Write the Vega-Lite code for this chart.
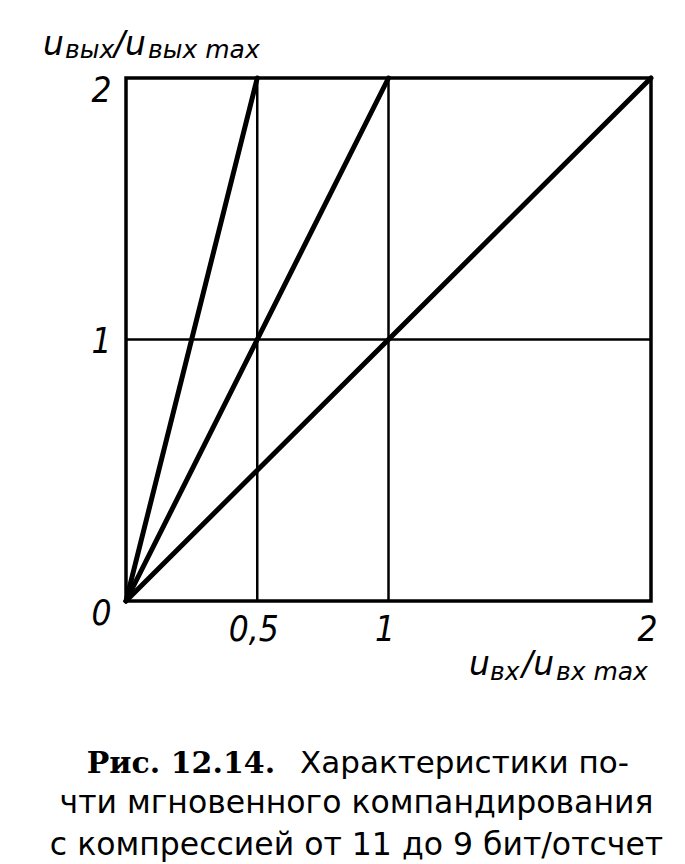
{
  "$schema": "https://vega.github.io/schema/vega-lite/v6.json",
  "width": 525,
  "height": 523,
  "autosize": "none",
  "padding": {"left": 126, "top": 78, "right": 34, "bottom": 263},
  "background": "white",
  "config": {
    "view": {"stroke": "black", "strokeWidth": 3.5},
    "axis": {"grid": false, "ticks": false, "domain": false, "title": null}
  },
  "datasets": {
    "curves": [
      {"curve": "4:1", "x": 0, "y": 0},
      {"curve": "4:1", "x": 0.5, "y": 2},
      {"curve": "2:1", "x": 0, "y": 0},
      {"curve": "2:1", "x": 1, "y": 2},
      {"curve": "1:1", "x": 0, "y": 0},
      {"curve": "1:1", "x": 2, "y": 2}
    ],
    "vgrid": [{"x": 0.5}, {"x": 1}],
    "hgrid": [{"y": 1}],
    "titleMain": [
      {"t": "u", "x": -0.316, "y": 2.088},
      {"t": "/u", "x": -0.046, "y": 2.088},
      {"t": "u", "x": 1.307, "y": -0.283},
      {"t": "/u", "x": 1.509, "y": -0.283}
    ],
    "titleSub": [
      {"t": "вых", "x": -0.232, "y": 2.077},
      {"t": "вых max", "x": 0.084, "y": 2.077},
      {"t": "вх", "x": 1.387, "y": -0.302},
      {"t": "вх max", "x": 1.638, "y": -0.302}
    ],
    "figNo": [{"t": "Рис. 12.14.", "x": 0.568, "y": -0.658}],
    "captionHead": [{"t": "Характеристики по-", "x": 0.663, "y": -0.658}],
    "captionRest": [
      {"t": "чти мгновенного компандирования", "x": 0.878, "y": -0.811},
      {"t": "с компрессией от 11 до 9 бит/отсчет", "x": 0.878, "y": -0.971}
    ]
  },
  "layer": [
    {
      "data": {"name": "vgrid"},
      "mark": {"type": "rule", "color": "black", "strokeWidth": 2.5},
      "encoding": {
        "x": {
          "field": "x",
          "type": "quantitative",
          "scale": {"domain": [0, 2], "nice": false, "zero": false},
          "axis": {
            "values": [0.5, 1, 2],
            "labelExpr": "replace(format(datum.value, '~g'), '.', ',')",
            "labelFont": "DejaVu Sans Condensed, DejaVu Sans",
            "labelFontStyle": "italic",
            "labelFontSize": 35,
            "labelColor": "black",
            "labelBaseline": "alphabetic",
            "labelPadding": 39,
            "labelOffset": -4,
            "labelFlush": false,
            "labelOverlap": false
          }
        }
      }
    },
    {
      "data": {"name": "hgrid"},
      "mark": {"type": "rule", "color": "black", "strokeWidth": 2.5},
      "encoding": {
        "y": {
          "field": "y",
          "type": "quantitative",
          "scale": {"domain": [0, 2], "nice": false, "zero": false},
          "axis": {
            "values": [0, 1, 2],
            "labelExpr": "format(datum.value, '~g')",
            "labelFont": "DejaVu Sans Condensed, DejaVu Sans",
            "labelFontStyle": "italic",
            "labelFontSize": 35,
            "labelColor": "black",
            "labelAlign": "right",
            "labelBaseline": "alphabetic",
            "labelPadding": 15,
            "labelOffset": {"condition": {"test": "datum.value == 1", "value": 13}, "value": 23},
            "labelFlush": false,
            "labelOverlap": false
          }
        }
      }
    },
    {
      "data": {"name": "curves"},
      "mark": {"type": "line", "color": "black", "strokeWidth": 5, "strokeCap": "round"},
      "encoding": {
        "x": {"field": "x", "type": "quantitative"},
        "y": {"field": "y", "type": "quantitative"},
        "detail": {"field": "curve"}
      }
    },
    {
      "data": {"name": "titleMain"},
      "mark": {"type": "text", "font": "DejaVu Sans", "fontStyle": "italic", "fontSize": 33, "align": "left", "baseline": "alphabetic", "color": "black"},
      "encoding": {
        "x": {"field": "x", "type": "quantitative"},
        "y": {"field": "y", "type": "quantitative"},
        "text": {"field": "t"}
      }
    },
    {
      "data": {"name": "titleSub"},
      "mark": {"type": "text", "font": "DejaVu Sans", "fontStyle": "italic", "fontSize": 25, "align": "left", "baseline": "alphabetic", "color": "black"},
      "encoding": {
        "x": {"field": "x", "type": "quantitative"},
        "y": {"field": "y", "type": "quantitative"},
        "text": {"field": "t"}
      }
    },
    {
      "data": {"name": "figNo"},
      "mark": {"type": "text", "font": "DejaVu Serif", "fontWeight": "bold", "fontSize": 30, "align": "right", "baseline": "alphabetic", "color": "black"},
      "encoding": {
        "x": {"field": "x", "type": "quantitative"},
        "y": {"field": "y", "type": "quantitative"},
        "text": {"field": "t"}
      }
    },
    {
      "data": {"name": "captionHead"},
      "mark": {"type": "text", "font": "DejaVu Sans", "fontSize": 31, "align": "left", "baseline": "alphabetic", "color": "black"},
      "encoding": {
        "x": {"field": "x", "type": "quantitative"},
        "y": {"field": "y", "type": "quantitative"},
        "text": {"field": "t"}
      }
    },
    {
      "data": {"name": "captionRest"},
      "mark": {"type": "text", "font": "DejaVu Sans", "fontSize": 31.5, "align": "center", "baseline": "alphabetic", "color": "black"},
      "encoding": {
        "x": {"field": "x", "type": "quantitative"},
        "y": {"field": "y", "type": "quantitative"},
        "text": {"field": "t"}
      }
    }
  ]
}
